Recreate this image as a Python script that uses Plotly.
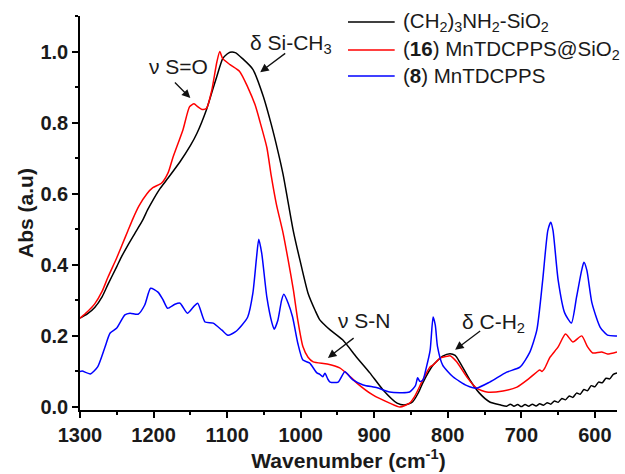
import plotly.graph_objects as go

# FTIR spectra (absorbance, normalised) vs wavenumber in cm^-1
wn_amine = [1300, 1290, 1280, 1270, 1262, 1250, 1243, 1235, 1225, 1215, 1208, 1200, 1191, 1180,
            1164, 1150, 1141, 1128, 1120, 1114, 1106, 1100, 1096, 1089, 1079, 1065, 1051, 1040,
            1031, 1024, 1017, 1010, 1001, 990, 980, 974, 967, 960, 943, 924, 906, 888, 869, 858,
            848, 840, 834, 820, 807, 797, 790, 784, 770, 757, 743, 729, 720, 715, 710, 705, 700,
            695, 690, 685, 680, 675, 670, 665, 660, 655, 650, 645, 640, 635, 630, 625, 620, 615,
            610, 605, 600, 595, 590, 585, 580, 575, 570]
abs_amine = [0.25, 0.262, 0.28, 0.31, 0.345, 0.395, 0.425, 0.455, 0.49, 0.525, 0.555, 0.585, 0.615, 0.645,
             0.69, 0.735, 0.77, 0.837, 0.89, 0.93, 0.98, 0.993, 0.998, 0.997, 0.98, 0.95, 0.875, 0.795,
             0.72, 0.655, 0.575, 0.495, 0.413, 0.32, 0.27, 0.245, 0.23, 0.217, 0.189, 0.14, 0.096, 0.048, 0.011, 0.006,
             0.014, 0.04, 0.068, 0.118, 0.143, 0.15, 0.145, 0.127, 0.076, 0.039, 0.014, 0.006, 0.002, 0.008, 0.002, 0.007, 0.001,
             0.007, 0.002, 0.008, 0.003, 0.009, 0.005, 0.012, 0.008, 0.017, 0.013, 0.024, 0.02, 0.031, 0.027, 0.039, 0.036, 0.049,
             0.046, 0.06, 0.057, 0.07, 0.068, 0.081, 0.079, 0.092, 0.096]

wn_hybrid = [1300, 1290, 1280, 1270, 1262, 1250, 1243, 1235, 1228, 1220, 1209, 1201, 1189, 1180,
             1174, 1160, 1151, 1145, 1140, 1134, 1128, 1121, 1114, 1110, 1106, 1096, 1083, 1072,
             1062, 1055, 1046, 1040, 1033, 1024, 1017, 1010, 1004, 997, 990, 983, 964, 947, 935,
             924, 902, 879, 865, 852, 845, 834, 824, 820, 810, 800, 797, 788, 774, 761, 747, 725,
             706, 689, 675, 672, 668, 661, 650, 640, 630, 618, 610, 603, 591, 583, 570]
abs_hybrid = [0.25, 0.268, 0.29, 0.325, 0.365, 0.42, 0.455, 0.495, 0.53, 0.565, 0.60, 0.617, 0.63, 0.66,
              0.70, 0.78, 0.845, 0.853, 0.845, 0.837, 0.84, 0.89, 0.97, 1.0, 0.98, 0.963, 0.944, 0.9,
              0.85, 0.80, 0.73, 0.65, 0.57, 0.49, 0.413, 0.33, 0.245, 0.17, 0.14, 0.127, 0.121, 0.11, 0.09,
              0.068, 0.034, 0.011, 0.0, 0.011, 0.03, 0.076, 0.113, 0.118, 0.138, 0.143, 0.144, 0.127, 0.084, 0.053, 0.042, 0.045,
              0.056, 0.081, 0.104, 0.1, 0.11, 0.14, 0.169, 0.205, 0.183, 0.2, 0.169, 0.152, 0.155, 0.149, 0.155]

wn_porph = [1300, 1297, 1286, 1276, 1266, 1259, 1250, 1239, 1232, 1221, 1212, 1204, 1194, 1187,
            1181, 1171, 1164, 1154, 1146, 1140, 1130, 1119, 1107, 1099, 1089, 1080, 1072, 1065,
            1060, 1057, 1053, 1046, 1039, 1036, 1031, 1026, 1023, 1017, 1011, 1004, 997, 988, 978,
            974, 970, 967, 963, 960, 949, 940, 929, 915, 896, 879, 852, 844, 841, 838, 834, 829,
            824, 820, 817, 814, 807, 793, 774, 761, 743, 720, 702, 689, 679, 671, 664, 660, 657,
            650, 641, 632, 625, 618, 615, 611, 604, 593, 583, 570]
abs_porph = [0.10, 0.101, 0.093, 0.113, 0.169, 0.208, 0.222, 0.259, 0.264, 0.261, 0.287, 0.334, 0.323, 0.301,
             0.278, 0.289, 0.292, 0.264, 0.281, 0.292, 0.239, 0.236, 0.216, 0.202, 0.211, 0.23, 0.253, 0.32,
             0.421, 0.472, 0.433, 0.309, 0.236, 0.219, 0.244, 0.3, 0.317, 0.292, 0.253, 0.18, 0.132, 0.124, 0.096,
             0.092, 0.085, 0.095, 0.078, 0.07, 0.07, 0.099, 0.076, 0.062, 0.054, 0.042, 0.042, 0.06, 0.082, 0.072, 0.075, 0.113,
             0.16, 0.253, 0.23, 0.17, 0.118, 0.085, 0.06, 0.053, 0.07, 0.098, 0.112, 0.152, 0.216, 0.357, 0.497, 0.52, 0.497,
             0.357, 0.264, 0.236, 0.309, 0.385, 0.407, 0.385, 0.292, 0.225, 0.202, 0.2]

series_names = ["(CH<sub>2</sub>)<sub>3</sub>NH<sub>2</sub>-SiO<sub>2</sub>",
                "(<b>16</b>) MnTDCPPS@SiO<sub>2</sub>",
                "(<b>8</b>) MnTDCPPS"]
series_colors = ["#000000", "#ff0000", "#0000ff"]

# band assignments: label, text position, arrow tail, arrow head (data coords)
bands = [
    ("\u03bd S=O", (1166, 0.958), (1173, 0.917), (1150, 0.869)),
    ("\u03b4 Si-CH<sub>3</sub>", (1013, 1.02), (1019, 0.998), (1055, 0.942)),
    ("\u03bd S-N", (913, 0.242), (926, 0.197), (963, 0.138)),
    ("\u03b4 C-H<sub>2</sub>", (738, 0.236), (754, 0.217), (790, 0.161)),
]

FONT = "Liberation Sans, Arial, sans-serif"
TXT = "#1a1a1a"

fig = go.Figure()
for wn, ab, name, col in zip([wn_amine, wn_hybrid, wn_porph],
                             [abs_amine, abs_hybrid, abs_porph],
                             series_names, series_colors):
    fig.add_trace(go.Scatter(x=wn, y=ab, name=name, mode="lines", showlegend=False,
                             line=dict(color=col, width=1.5, shape="spline", smoothing=0.6)))

for label, (tx, ty), (ax, ay), (hx, hy) in bands:
    fig.add_annotation(x=tx, y=ty, text=label, showarrow=False,
                       font=dict(family=FONT, size=21, color=TXT))
    fig.add_annotation(x=hx, y=hy, ax=ax, ay=ay, axref="x", ayref="y", text="",
                       showarrow=True, arrowhead=2, arrowsize=1.3, arrowwidth=1.3,
                       arrowcolor="#111111")

# key in the upper right: short line sample followed by the series name
key_rows = [0.985, 0.914, 0.848]
for name, col, ky in zip(series_names, series_colors, key_rows):
    fig.add_shape(type="line", xref="paper", yref="paper",
                  x0=0.499, x1=0.586, y0=ky, y1=ky, line=dict(color=col, width=1.5))
    fig.add_annotation(xref="paper", yref="paper", x=0.598, y=ky, text=name,
                       xanchor="left", yanchor="middle", showarrow=False,
                       font=dict(family=FONT, size=20.5, color=TXT))

axis_common = dict(showline=True, linecolor="black", linewidth=1.5, ticks="outside",
                   ticklen=6, tickwidth=1.5, tickcolor="black", showgrid=False, zeroline=False,
                   tickfont=dict(family=FONT, size=20, color=TXT, weight="bold"),
                   mirror=False)

fig.update_layout(
    width=625, height=474,
    margin=dict(l=80, r=8, t=16, b=64),
    paper_bgcolor="white", plot_bgcolor="white",
    font=dict(family=FONT, color=TXT),
    xaxis=dict(range=[1300, 570], tickvals=[1300, 1200, 1100, 1000, 900, 800, 700, 600],
               minor=dict(dtick=50, tick0=0, ticks="outside", ticklen=3, tickwidth=1.5, tickcolor="black"),
               title=dict(text="Wavenumber (cm<sup>-1</sup>)", standoff=4,
                          font=dict(family=FONT, size=21, color=TXT, weight="bold")),
               **axis_common),
    yaxis=dict(range=[-0.0085, 1.1], tickvals=[0.0, 0.2, 0.4, 0.6, 0.8, 1.0], tickformat=".1f",
               minor=dict(dtick=0.1, tick0=0, ticks="outside", ticklen=3, tickwidth=1.5, tickcolor="black"),
               title=dict(text="Abs (a.u)", standoff=1,
                          font=dict(family=FONT, size=21, color=TXT, weight="bold")),
               **axis_common),
    showlegend=False,
)

fig.write_html("out.html")
